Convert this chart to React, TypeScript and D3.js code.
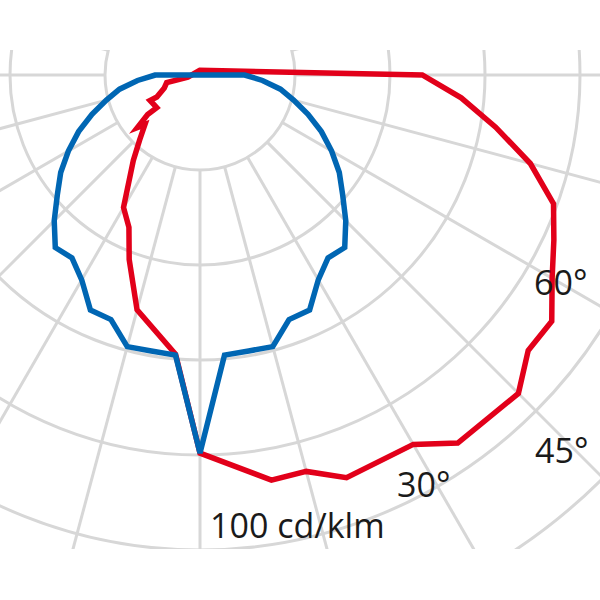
import React from "react";
import * as d3 from "d3";

// Polar grid
const ringValues = [100, 200, 300, 400, 500, 600];
const spokeAngles = d3.range(0, 360, 15);

// Blue curve (C0-C180 plane), angles in degrees from nadir, values in cd/klm
const blueAngles = d3.range(-90, 91, 5);
const blueValues = [
  47, 66, 86, 102, 121, 141, 160, 179, 196, 217, 237, 235, 249, 273, 274, 296, 295, 296,
  398,
  296, 295, 296, 274, 273, 249, 235, 237, 217, 196, 179, 160, 141, 121, 102, 86, 66, 47,
];

// Red curve (C90-C270 plane)
const redAngles = [
  180, -80, -77, -70, -63, -63, -53, -53, -50, -48, -43, -38, -30, -25, -21, -15, -5,
  0, 10, 15, 20, 30, 35, 45, 50, 55, 60, 65, 70, 75, 80, 85, 90,
];
const redValues = [
  5, 13, 36, 40, 51, 59, 57, 69, 86, 78, 93, 114, 161, 177, 208, 256, 295,
  398, 433, 432, 451, 449, 473, 474, 451, 452, 428, 411, 396, 360, 316, 276, 234,
];

const angleLabels = ["30°", "45°", "60°"];
const unitLabel = "100 cd/klm";

const W = 600;
const H = 600;
const cx = 200;
const cy = 75;

export default function App() {
  const r = d3.scaleLinear().domain([0, 100]).range([0, 95]);
  const toRad = (deg: number) => ((180 - deg) * Math.PI) / 180;

  const line = d3
    .lineRadial<[number, number]>()
    .angle((d) => toRad(d[0]))
    .radius((d) => r(d[1]))
    .curve(d3.curveLinearClosed);

  const blue = line(blueAngles.map((a, i) => [a, blueValues[i]] as [number, number]));
  const red = line(redAngles.map((a, i) => [a, redValues[i]] as [number, number]));

  const gridColor = "#d7d7d7";
  const rInner = r(ringValues[0]);
  const rOuter = r(800);

  const labelPos = [
    { x: 397, y: 497 },
    { x: 535, y: 463 },
    { x: 534, y: 295 },
  ];

  return (
    <svg
      width={W}
      height={H}
      style={{ position: "absolute", left: 0, top: 0, background: "#fff" }}
      fontFamily="'Open Sans', sans-serif"
    >
      <defs>
        <clipPath id="gridClip">
          <rect x={0} y={50} width={600} height={499} />
        </clipPath>
      </defs>
      <g clipPath="url(#gridClip)">
        <g transform={`translate(${cx},${cy})`} stroke={gridColor} strokeWidth={3} fill="none">
          {ringValues.map((v) => (
            <circle key={v} r={r(v)} />
          ))}
          {spokeAngles.map((a) => {
            const t = (a * Math.PI) / 180;
            return (
              <line
                key={a}
                x1={rInner * Math.sin(t)}
                y1={rInner * Math.cos(t)}
                x2={rOuter * Math.sin(t)}
                y2={rOuter * Math.cos(t)}
              />
            );
          })}
        </g>
      </g>
      <g transform={`translate(${cx},${cy})`} fill="none" strokeWidth={5.5} strokeLinejoin="miter">
        <path d={red ?? ""} stroke="#e2001a" />
        <path d={blue ?? ""} stroke="#0066b3" />
      </g>
      <g fill="#1a1a1a" fontSize={34}>
        {angleLabels.map((t, i) => (
          <text key={t} x={labelPos[i].x} y={labelPos[i].y}>
            {t}
          </text>
        ))}
        <text x={210} y={538}>
          {unitLabel}
        </text>
      </g>
    </svg>
  );
}
